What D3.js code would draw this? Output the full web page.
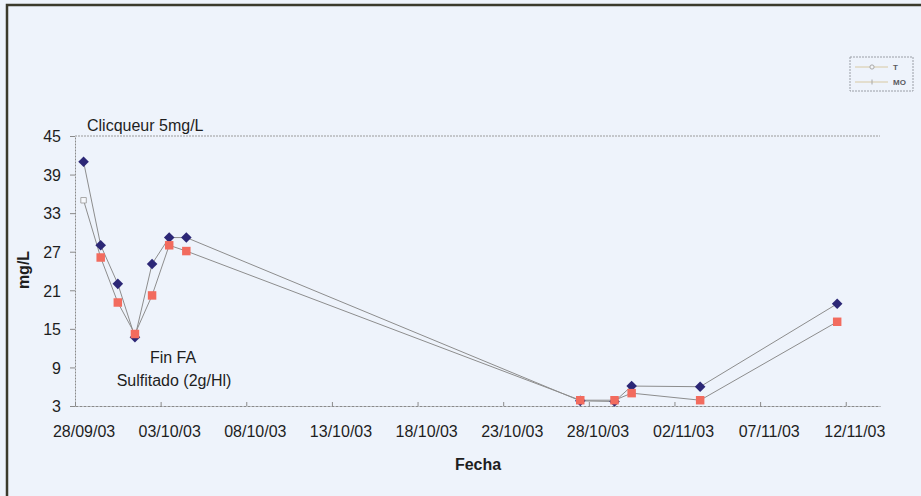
<!DOCTYPE html>
<html>
<head>
<meta charset="utf-8">
<script src="https://cdn.jsdelivr.net/npm/d3@7"></script>
<style>
  body { margin: 0; background: #eef3fb; }
  svg { display: block; font-family: "Liberation Sans", Arial, sans-serif; }
  .axis text { font-size: 16px; fill: #1e1e1e; }
  .axis path, .axis line { stroke: #8a8a8a; }
</style>
</head>
<body>
<div id="chart"></div>
<script>
//wrap everything in a self-executing anonymous function
(function(){

  //data
  var datesT = ["28/09/03", "29/09/03", "30/09/03", "01/10/03", "02/10/03", "03/10/03", "04/10/03",
                "27/10/03", "29/10/03", "30/10/03", "03/11/03", "11/11/03"];
  var valuesT = [41, 28, 22, 13.7, 25.1, 29.2, 29.2, 3.8, 3.7, 6.1, 6.0, 18.9];
  var datesMO = datesT;
  var valuesMO = [35, 26.1, 19.1, 14.2, 20.2, 28.0, 27.1, 3.9, 3.9, 5.0, 3.9, 16.1];
  var xTickLabels = ["28/09/03", "03/10/03", "08/10/03", "13/10/03", "18/10/03",
                     "23/10/03", "28/10/03", "02/11/03", "07/11/03", "12/11/03"];
  var yTicks = [3, 9, 15, 21, 27, 33, 39, 45];
  var seriesNames = ["T", "MO"];

  var width = 921,
      height = 496,
      halfDay = 12 * 3600 * 1000;

  var parseDate = d3.utcParse("%d/%m/%y");

  var svg = d3.select("#chart")
    .append("svg")
    .attr("width", width)
    .attr("height", height);

  //page background and scan frame
  svg.append("rect")
    .attr("width", width)
    .attr("height", height)
    .attr("fill", "#eef3fb");

  svg.append("path")
    .attr("d", "M7," + height + "V5H" + width)
    .attr("fill", "none")
    .attr("stroke", "#3b3a2c")
    .attr("stroke-width", 2.5);

  //scales: one category per day, points sit in the middle of the day
  var x = d3.scaleUtc()
    .domain([parseDate("28/09/03"), parseDate("14/11/03")])
    .range([75, 880]);

  var y = d3.scaleLinear()
    .domain([3, 45])
    .range([406, 136]);

  function px(d){ return x(new Date(parseDate(d).getTime() + halfDay)); }

  //top border of the plot area
  svg.append("line")
    .attr("x1", x.range()[0])
    .attr("x2", x.range()[1])
    .attr("y1", y(45))
    .attr("y2", y(45))
    .attr("stroke", "#9a9a9a")
    .attr("stroke-dasharray", "2,1");

  //x axis
  var xAxis = d3.axisBottom(x)
    .tickValues(xTickLabels.map(parseDate))
    .tickFormat(d3.utcFormat("%d/%m/%y"))
    .tickSizeInner(-4)
    .tickSizeOuter(0);

  var gx = svg.append("g")
    .attr("class", "axis")
    .attr("transform", "translate(0," + y(3) + ")")
    .call(xAxis);

  gx.select(".domain").attr("stroke-dasharray", "3,1");
  gx.selectAll("text")
    .attr("dx", x(new Date(parseDate("28/09/03").getTime() + halfDay)) - x(parseDate("28/09/03")))
    .attr("dy", "1.75em");

  //y axis
  var yAxis = d3.axisLeft(y)
    .tickValues(yTicks)
    .tickSizeInner(5)
    .tickSizeOuter(0)
    .tickPadding(9);

  var gy = svg.append("g")
    .attr("class", "axis")
    .attr("transform", "translate(" + x.range()[0] + ",0)")
    .call(yAxis);

  gy.select(".domain").attr("stroke-dasharray", "2,1");
  gy.selectAll("text").attr("dy", "0.36em");

  //series lines
  var line = d3.line()
    .x(function(d){ return px(d[0]); })
    .y(function(d){ return y(d[1]); });

  var rowsT = d3.zip(datesT, valuesT),
      rowsMO = d3.zip(datesMO, valuesMO);

  svg.append("path")
    .datum(rowsT)
    .attr("d", line)
    .attr("fill", "none")
    .attr("stroke", "#8d8d8d")
    .attr("stroke-width", 1);

  svg.append("path")
    .datum(rowsMO)
    .attr("d", line)
    .attr("fill", "none")
    .attr("stroke", "#8d8d8d")
    .attr("stroke-width", 1);

  //T markers: dark blue diamonds
  svg.selectAll(".markT")
    .data(rowsT)
    .enter()
    .append("path")
    .attr("class", "markT")
    .attr("d", d3.symbol(d3.symbolSquare, 56))
    .attr("transform", function(d){
      return "translate(" + px(d[0]) + "," + y(d[1]) + ") rotate(45)";
    })
    .attr("fill", "#2c2776");

  //MO markers: salmon squares (first one faded in the scan)
  svg.selectAll(".markMO")
    .data(rowsMO)
    .enter()
    .append("path")
    .attr("class", "markMO")
    .attr("d", function(d, i){
      return d3.symbol(d3.symbolSquare, i == 0 ? 30 : 72)();
    })
    .attr("transform", function(d){
      return "translate(" + px(d[0]) + "," + y(d[1]) + ")";
    })
    .attr("fill", function(d, i){ return i == 0 ? "#f6f8fc" : "#f26b5e"; })
    .attr("stroke", function(d, i){ return i == 0 ? "#a8a8a8" : "none"; });

  //annotations
  svg.append("text")
    .attr("x", 87)
    .attr("y", 131)
    .style("font-size", "16px")
    .attr("fill", "#1e1e1e")
    .text("Clicqueur 5mg/L");

  svg.append("text")
    .attr("x", 173)
    .attr("y", 363)
    .attr("text-anchor", "middle")
    .style("font-size", "16px")
    .attr("fill", "#1e1e1e")
    .text("Fin FA");

  svg.append("text")
    .attr("x", 174)
    .attr("y", 386)
    .attr("text-anchor", "middle")
    .style("font-size", "16px")
    .attr("fill", "#1e1e1e")
    .text("Sulfitado (2g/Hl)");

  //axis titles
  svg.append("text")
    .attr("transform", "translate(29,270) rotate(-90)")
    .attr("text-anchor", "middle")
    .style("font-size", "16px")
    .style("font-weight", "bold")
    .attr("fill", "#1e1e1e")
    .text("mg/L");

  svg.append("text")
    .attr("x", 478)
    .attr("y", 470)
    .attr("text-anchor", "middle")
    .style("font-size", "16px")
    .style("font-weight", "bold")
    .attr("fill", "#1e1e1e")
    .text("Fecha");

  //legend (very faded in the reference)
  var legend = svg.append("g")
    .attr("transform", "translate(850,57)");

  legend.append("rect")
    .attr("width", 63)
    .attr("height", 34)
    .attr("fill", "none")
    .attr("stroke", "#9a9ea6")
    .attr("stroke-dasharray", "2,1");

  var items = legend.selectAll(".item")
    .data(seriesNames)
    .enter()
    .append("g")
    .attr("class", "item")
    .attr("transform", function(d, i){ return "translate(0," + (10 + i * 15) + ")"; });

  items.append("line")
    .attr("x1", 5)
    .attr("x2", 38)
    .attr("stroke", "#d8c9a2")
    .attr("stroke-width", 1);

  items.append("path")
    .attr("d", function(d, i){
      return i == 0 ? d3.symbol(d3.symbolCircle, 14)() : "M0,-2.5V2.5";
    })
    .attr("transform", "translate(22,0)")
    .attr("fill", "#f3f5f8")
    .attr("stroke", "#a8a8a8");

  items.append("text")
    .attr("x", 43)
    .attr("dy", "0.35em")
    .style("font-size", "8px")
    .style("font-weight", "bold")
    .attr("fill", "#5a5a60")
    .text(function(d){ return d; });

})();
</script>
</body>
</html>
